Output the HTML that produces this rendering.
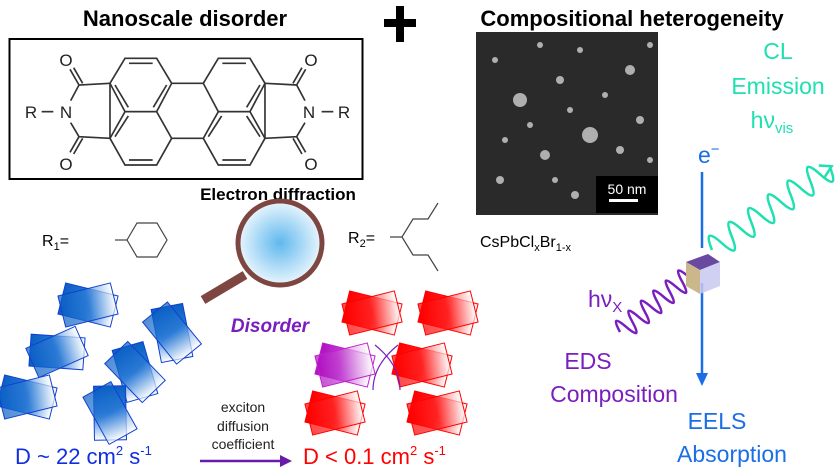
<!DOCTYPE html>
<html><head><meta charset="utf-8"><style>
body{margin:0;width:837px;height:470px;overflow:hidden;background:#fff;font-family:"Liberation Sans",sans-serif}
</style></head><body>
<svg width="837" height="470" viewBox="0 0 837 470" xmlns="http://www.w3.org/2000/svg" font-family="Liberation Sans, sans-serif">
<defs>
<linearGradient id="gb" x1="0" x2="1"><stop offset="0" stop-color="#0b5fc4"/><stop offset="0.5" stop-color="#2a7ad6"/><stop offset="1" stop-color="#fff"/></linearGradient>
<linearGradient id="gr" x1="0" x2="1"><stop offset="0" stop-color="#f00"/><stop offset="0.5" stop-color="#f22"/><stop offset="1" stop-color="#fff"/></linearGradient>
<linearGradient id="gp" x1="0" x2="1"><stop offset="0" stop-color="#b010c0"/><stop offset="0.4" stop-color="#c040d0"/><stop offset="1" stop-color="#fff"/></linearGradient>
<radialGradient id="mg"><stop offset="0" stop-color="#5fb8ee"/><stop offset="1" stop-color="#eaf6fd"/></radialGradient>
<g id="pb"><rect x="-27" y="-16" width="54" height="32" fill="url(#gb)" stroke="#1040d0" stroke-width="1" transform="rotate(14)"/><rect x="-27" y="-16" width="54" height="32" fill="url(#gb)" fill-opacity="0.7" stroke="#1040d0" stroke-width="1" transform="rotate(-14)"/></g>
<g id="pr"><rect x="-27" y="-16" width="54" height="32" fill="url(#gr)" stroke="#f00" stroke-width="1" transform="rotate(14)"/><rect x="-27" y="-16" width="54" height="32" fill="url(#gr)" fill-opacity="0.7" stroke="#f00" stroke-width="1" transform="rotate(-14)"/></g>
<g id="pp"><rect x="-27" y="-16" width="54" height="32" fill="url(#gp)" stroke="#c020d0" stroke-width="1" transform="rotate(14)"/><rect x="-27" y="-16" width="54" height="32" fill="url(#gp)" fill-opacity="0.7" stroke="#c020d0" stroke-width="1" transform="rotate(-14)"/></g>
</defs>
<text x="185" y="26" font-size="22" font-weight="bold" text-anchor="middle">Nanoscale disorder</text>
<rect x="384" y="19" width="32" height="8" fill="#000"/><rect x="396" y="6" width="8" height="36" fill="#000"/>
<text x="632" y="26" font-size="22" font-weight="bold" text-anchor="middle">Compositional heterogeneity</text>
<rect x="9.5" y="39" width="353" height="140" fill="none" stroke="#000" stroke-width="2"/>
<g transform="translate(0,30) scale(0.3333)" fill="none" stroke="#333" stroke-width="5">
<polygon points="330,160 375,85 470,85 515,160 470,245 375,245"/>
<polygon points="375,245 470,245 515,325 470,405 375,405 330,325"/>
<polygon points="610,160 655,85 750,85 795,160 750,245 655,245"/>
<polygon points="655,245 750,245 795,325 750,405 655,405 610,325"/>
<line x1="330" y1="160" x2="330" y2="325"/><line x1="795" y1="160" x2="795" y2="325"/>
<line x1="515" y1="160" x2="610" y2="160"/><line x1="515" y1="325" x2="610" y2="325"/>
<polyline points="330,160 237,165 212,212"/><polyline points="330,325 237,320 212,278"/>
<polyline points="795,160 890,165 915,212"/><polyline points="795,325 890,320 915,278"/>
<line x1="237" y1="165" x2="210" y2="118"/><line x1="248" y1="160" x2="221" y2="113"/>
<line x1="237" y1="320" x2="210" y2="367"/><line x1="248" y1="325" x2="221" y2="372"/>
<line x1="890" y1="165" x2="917" y2="118"/><line x1="879" y1="160" x2="906" y2="113"/>
<line x1="890" y1="320" x2="917" y2="367"/><line x1="879" y1="325" x2="906" y2="372"/>
<line x1="125" y1="245" x2="160" y2="245"/><line x1="965" y1="245" x2="1000" y2="245"/>
<line x1="387" y1="100" x2="458" y2="100"/><line x1="387" y1="390" x2="458" y2="390"/>
<line x1="667" y1="100" x2="738" y2="100"/><line x1="667" y1="390" x2="738" y2="390"/>
<line x1="345" y1="165" x2="385" y2="232"/><line x1="500" y1="165" x2="460" y2="232"/>
<line x1="625" y1="320" x2="665" y2="258"/><line x1="780" y1="320" x2="740" y2="258"/>
<line x1="345" y1="320" x2="385" y2="258"/><line x1="780" y1="165" x2="740" y2="232"/>
</g>
<g font-size="17" fill="#222" text-anchor="middle">
<text x="66" y="66">O</text><text x="66" y="170">O</text>
<text x="311" y="66">O</text><text x="311" y="170">O</text>
<text x="31" y="118">R</text><text x="66" y="118">N</text>
<text x="309" y="118">N</text><text x="344" y="118">R</text>
</g>
<text x="278" y="200" font-size="17" font-weight="bold" text-anchor="middle">Electron diffraction</text>
<text x="42" y="246" font-size="16">R<tspan font-size="11" dy="4">1</tspan><tspan dy="-4">=</tspan></text>
<line x1="115" y1="240" x2="127" y2="240" stroke="#444" stroke-width="1.2"/>
<polygon points="127,240 137,223 157,223 167,240 157,257 137,257" fill="none" stroke="#444" stroke-width="1.2"/>
<text x="348" y="243" font-size="16">R<tspan font-size="11" dy="4">2</tspan><tspan dy="-4">=</tspan></text>
<polyline points="390,237 402,237 413,219 428,219 438,203" fill="none" stroke="#444" stroke-width="1.2"/>
<polyline points="402,237 413,255 428,255 438,271" fill="none" stroke="#444" stroke-width="1.2"/>
<line x1="245" y1="275" x2="203" y2="300" stroke="#7d4640" stroke-width="9"/>
<circle cx="280" cy="243" r="42" fill="url(#mg)" stroke="#7d4640" stroke-width="5"/>
<text x="270" y="332" font-size="19" font-weight="bold" font-style="italic" fill="#7a1fbf" text-anchor="middle">Disorder</text>
<rect x="476" y="32" width="182" height="183" fill="#2a2a2a"/>
<g fill="#e8e8e8" opacity="0.7">
<circle cx="520" cy="100" r="7"/><circle cx="590" cy="135" r="8"/><circle cx="560" cy="80" r="4"/><circle cx="630" cy="70" r="5"/><circle cx="500" cy="180" r="4"/><circle cx="545" cy="155" r="5"/><circle cx="610" cy="190" r="5"/><circle cx="640" cy="120" r="4"/><circle cx="495" cy="60" r="3"/><circle cx="575" cy="195" r="4"/><circle cx="530" cy="125" r="3"/><circle cx="605" cy="95" r="3"/><circle cx="650" cy="160" r="3"/><circle cx="555" cy="180" r="3"/><circle cx="580" cy="50" r="3"/><circle cx="505" cy="140" r="3"/><circle cx="620" cy="150" r="4"/><circle cx="540" cy="45" r="3"/><circle cx="650" cy="45" r="3"/><circle cx="570" cy="110" r="3"/>
</g>
<rect x="596" y="176" width="62" height="37" fill="#000"/>
<text x="627" y="194" font-size="14" fill="#fff" text-anchor="middle">50 nm</text>
<rect x="609" y="199" width="29" height="3" fill="#fff"/>
<text x="480" y="247" font-size="16">CsPbCl<tspan font-size="11" dy="4">x</tspan><tspan dy="-4">Br</tspan><tspan font-size="11" dy="4">1-x</tspan></text>
<g font-size="23" fill="#1ee0b0" text-anchor="middle">
<text x="778" y="59">CL</text><text x="778" y="94">Emission</text><text x="772" y="128">hν<tspan font-size="15" dy="5">vis</tspan></text>
</g>
<g transform="translate(712,250) rotate(-35)">
<path d="M0,0 q6,-26 12,0 t12,0 t12,0 t12,0 t12,0 t12,0 t12,0 t12,0 t12,0 t12,0 t12,0 t12,0" fill="none" stroke="#1ee0b0" stroke-width="2.5"/>
<path d="M136,-8 l10,8 l-12,5" fill="none" stroke="#1ee0b0" stroke-width="2.5"/>
</g>
<text x="698" y="163" font-size="23" fill="#1a6ee6">e<tspan font-size="15" dy="-9">−</tspan></text>
<line x1="702" y1="172" x2="702" y2="248" stroke="#1a6ee6" stroke-width="2.5"/>
<line x1="702" y1="283" x2="702" y2="375" stroke="#1a6ee6" stroke-width="2.5"/>
<polygon points="696,373 708,373 702,386" fill="#1a6ee6"/>
<g transform="translate(620,332) rotate(-39)">
<path d="M0,0 q4,-22 8,0 t8,0 t8,0 t8,0 t8,0 t8,0 t8,0 t8,0 t8,0 t8,0 t8,0 t8,0" fill="none" stroke="#7a1fbf" stroke-width="2.5"/>
</g>
<polygon points="686,262 708,254 720,262 700,270" fill="#6a4aa0"/>
<polygon points="686,262 700,270 700,294 686,286" fill="#cbb88a"/>
<polygon points="700,270 720,262 720,286 700,294" fill="#c8c8f0" opacity="0.85"/>
<text x="588" y="307" font-size="23" fill="#7a1fbf">hν<tspan font-size="15" dy="5">X</tspan></text>
<g font-size="23" fill="#7a1fbf" text-anchor="middle"><text x="588" y="369">EDS</text><text x="614" y="402">Composition</text></g>
<g font-size="23" fill="#1a6ee6" text-anchor="middle"><text x="717" y="429">EELS</text><text x="732" y="462">Absorption</text></g>
<use href="#pb" transform="translate(88,305)"/>
<use href="#pb" transform="translate(57,352) rotate(-10)"/>
<use href="#pb" transform="translate(27,397)"/>
<use href="#pb" transform="translate(172,333) rotate(65)"/>
<use href="#pb" transform="translate(135,372) rotate(60)"/>
<use href="#pb" transform="translate(110,413) rotate(75)"/>
<use href="#pr" transform="translate(372,313)"/>
<use href="#pr" transform="translate(448,313)"/>
<use href="#pp" transform="translate(345,365)"/>
<use href="#pr" transform="translate(422,365)"/>
<use href="#pr" transform="translate(335,413)"/>
<use href="#pr" transform="translate(437,413)"/>
<path d="M375,345 q25,20 25,45 M398,345 q-25,20 -25,45" fill="none" stroke="#7a1fbf" stroke-width="1.2"/>
<text x="15" y="464" font-size="22" fill="#1030e0">D ~ 22 cm<tspan font-size="13" dy="-9">2</tspan><tspan dy="9"> s</tspan><tspan font-size="13" dy="-9">-1</tspan></text>
<g font-size="14" fill="#222" text-anchor="middle"><text x="243" y="412">exciton</text><text x="243" y="431">diffusion</text><text x="243" y="449">coefficient</text></g>
<line x1="200" y1="461" x2="282" y2="461" stroke="#6a1aa8" stroke-width="2.5"/>
<polygon points="280,455 292,461 280,467" fill="#6a1aa8"/>
<text x="303" y="464" font-size="22" fill="#f00">D &lt; 0.1 cm<tspan font-size="13" dy="-9">2</tspan><tspan dy="9"> s</tspan><tspan font-size="13" dy="-9">-1</tspan></text>
</svg>
</body></html>
